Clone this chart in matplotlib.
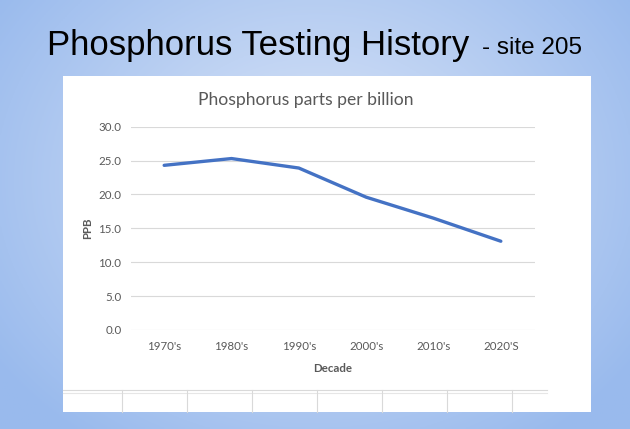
import numpy as np
import matplotlib.pyplot as plt

# data
decades = ["1970's", "1980's", "1990's", "2000's", "2010's", "2020'S"]
ppb = [24.3, 25.3, 23.9, 19.6, 16.5, 13.1]
y_ticks = [0, 5, 10, 15, 20, 25, 30]

W, H = 630, 429
fig = plt.figure(figsize=(W / 100, H / 100), dpi=100)

# slide background: soft radial blue gradient
bg = fig.add_axes([0, 0, 1, 1])
yy, xx = np.mgrid[0:1:200j, 0:1:300j]
d = np.sqrt(((xx - 0.5) / 0.62) ** 2 + ((yy - 0.42) / 0.75) ** 2)
d = np.clip(d, 0, 1)
c_in = np.array([0.86, 0.90, 0.97])
c_out = np.array([0.60, 0.73, 0.93])
img = c_in[None, None, :] * (1 - d[..., None]) + c_out[None, None, :] * d[..., None]
bg.imshow(img, extent=[0, 1, 0, 1], aspect='auto', origin='upper')
bg.set_xlim(0, 1)
bg.set_ylim(0, 1)
bg.axis('off')

# white pasted chart panel (pixel coords -> figure fraction)
def fx(px):
    return px / W

def fy(py):
    return 1 - py / H

bg.add_patch(plt.Rectangle((fx(63), fy(412)), fx(591) - fx(63), fy(76) - fy(412),
                           facecolor='white', edgecolor='none', zorder=2))
# leftover spreadsheet cell borders under the chart
bg.plot([fx(63), fx(547)], [fy(390), fy(390)], color='#d9d9d9', lw=0.8, zorder=3)
bg.plot([fx(63), fx(547)], [fy(392.5), fy(392.5)], color='#e6e6e6', lw=0.8, zorder=3)
for vx in [122, 187, 252, 317, 382, 447, 512]:
    bg.plot([fx(vx), fx(vx)], [fy(390), fy(412)], color='#d9d9d9', lw=0.8, zorder=3)

# slide title
t1 = fig.text(fx(47), fy(46), 'Phosphorus Testing History', fontsize=25,
              family='Liberation Sans', color='black', va='center', ha='left')
fig.canvas.draw()
bb = t1.get_window_extent()
fig.text(bb.x1 / W + fx(13), fy(46) - 0.005, '- site 205', fontsize=17.5,
         family='Liberation Sans', color='black', va='center', ha='left')

# the chart
grey = '#595959'
ax = fig.add_axes([fx(130.5), fy(330), fx(534.5) - fx(130.5), fy(126.7) - fy(330)])
x = np.arange(len(decades))
ax.plot(x, ppb, color='#4472C4', lw=2.4, solid_capstyle='round', zorder=3)
ax.set_xlim(-0.5, len(decades) - 0.5)
ax.set_ylim(0, 30)
ax.set_yticks(y_ticks)
ax.set_yticklabels([f'{v:.1f}' for v in y_ticks], fontsize=8.3, color=grey, family='Lato')
ax.set_xticks(x)
ax.set_xticklabels(decades, fontsize=8.3, color=grey, family='Lato')
ax.tick_params(axis='y', length=0, pad=6.5)
ax.tick_params(axis='x', length=0, pad=8)
ax.grid(axis='y', color='#d9d9d9', lw=0.8)
ax.set_axisbelow(True)
for s in ax.spines.values():
    s.set_visible(False)
ax.patch.set_alpha(0)

ax.set_xlabel('Decade', fontsize=8.3, color=grey, family='Lato', fontweight='bold', labelpad=8)
ax.set_ylabel('PPB', fontsize=8.3, color=grey, family='Lato', fontweight='bold', labelpad=4)
fig.text(fx(306), fy(100), 'Phosphorus parts per billion', fontsize=12.6, color=grey,
         family='Lato', ha='center', va='center')

fig.savefig('out.png', dpi=100)
